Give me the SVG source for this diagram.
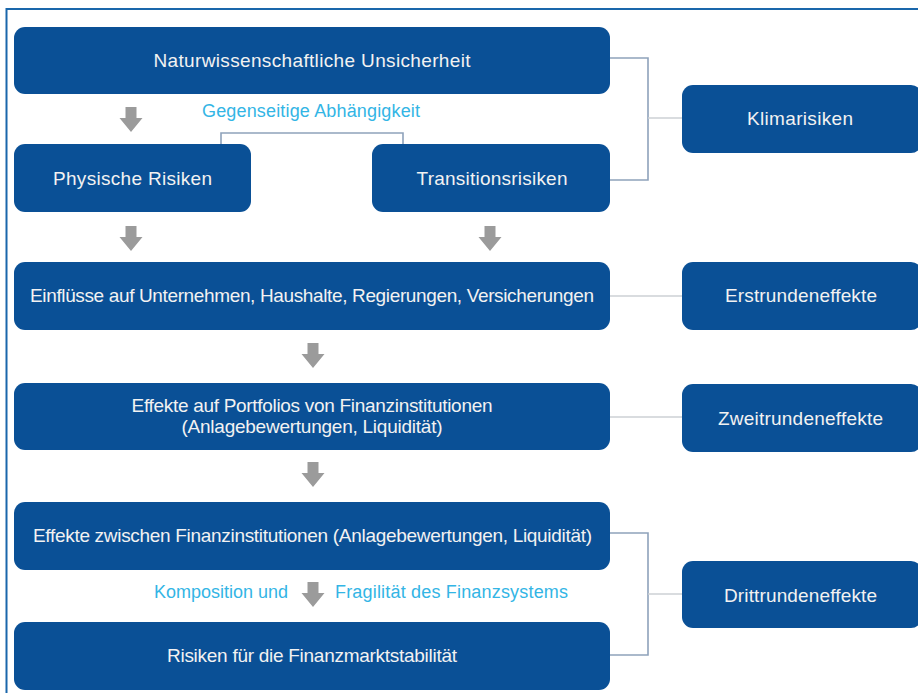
<svg xmlns="http://www.w3.org/2000/svg" width="918" height="693" viewBox="0 0 918 693">
<style>
.box{fill:#0a5096;}
.t{font-family:"Liberation Sans",Arial,sans-serif;font-size:19px;fill:#f2f2f2;text-anchor:middle;}
.c{font-family:"Liberation Sans",Arial,sans-serif;font-size:18px;fill:#33b5e5;text-anchor:middle;}
.br{fill:none;stroke:#8ea2bb;stroke-width:1.6;}
.ln{fill:none;stroke:#ccd0d5;stroke-width:1.6;}
.ar{fill:#9b9b9b;}
</style>
<defs>
<path id="arr" d="M-5.5,0 H5.5 V11 H11.5 L0,25 L-11.5,11 H-5.5 Z"/>
</defs>
<rect x="0" y="0" width="918" height="693" fill="#ffffff"/>
<path d="M6.5,693 V9 H918" fill="none" stroke="#1a67ab" stroke-width="2"/>

<g id="connectors">
<path class="br" d="M610,58 H648 V180 H610"/>
<path class="ln" d="M648,118 H682"/>
<path class="br" d="M221,144 V133 H403 V144"/>
<path class="ln" d="M610,296 H682"/>
<path class="ln" d="M610,417 H682"/>
<path class="br" d="M610,533 H648 V655 H610"/>
<path class="ln" d="M648,594 H682"/>
<use href="#arr" class="ar" x="131" y="107"/>
<use href="#arr" class="ar" x="131" y="226"/>
<use href="#arr" class="ar" x="490" y="226"/>
<use href="#arr" class="ar" x="313" y="343"/>
<use href="#arr" class="ar" x="313" y="462"/>
<use href="#arr" class="ar" x="313" y="582"/>
</g>

<g id="n-unsicherheit">
<rect class="box" x="14" y="27" width="596" height="67" rx="11"/>
<text class="t" x="312" y="67" textLength="317" lengthAdjust="spacing">Naturwissenschaftliche Unsicherheit</text>
</g>
<g id="lbl-abhaengigkeit">
<text class="c" x="311" y="117" textLength="218" lengthAdjust="spacing">Gegenseitige Abhängigkeit</text>
</g>
<g id="n-physisch">
<rect class="box" x="14" y="144" width="237" height="68" rx="11"/>
<text class="t" x="132.5" y="185" textLength="159" lengthAdjust="spacing">Physische Risiken</text>
</g>
<g id="n-transition">
<rect class="box" x="372" y="144" width="238" height="68" rx="11"/>
<text class="t" x="492" y="185" textLength="151" lengthAdjust="spacing">Transitionsrisiken</text>
</g>
<g id="n-klima">
<rect class="box" x="682" y="85" width="240" height="68" rx="11"/>
<text class="t" x="800" y="125" textLength="106" lengthAdjust="spacing">Klimarisiken</text>
</g>
<g id="n-einfluesse">
<rect class="box" x="14" y="262" width="596" height="68" rx="11"/>
<text class="t" x="312" y="302" textLength="564" lengthAdjust="spacing">Einflüsse auf Unternehmen, Haushalte, Regierungen, Versicherungen</text>
</g>
<g id="n-erst">
<rect class="box" x="682" y="262" width="240" height="68" rx="11"/>
<text class="t" x="801" y="302" textLength="152" lengthAdjust="spacing">Erstrundeneffekte</text>
</g>
<g id="n-portfolios">
<rect class="box" x="14" y="383" width="596" height="67" rx="11"/>
<text class="t" x="312" y="412" textLength="361" lengthAdjust="spacing">Effekte auf Portfolios von Finanzinstitutionen</text>
<text class="t" x="312" y="433" textLength="261" lengthAdjust="spacing">(Anlagebewertungen, Liquidität)</text>
</g>
<g id="n-zweit">
<rect class="box" x="682" y="384" width="240" height="68" rx="11"/>
<text class="t" x="800.5" y="425" textLength="165" lengthAdjust="spacing">Zweitrundeneffekte</text>
</g>
<g id="n-zwischen">
<rect class="box" x="14" y="502" width="596" height="68" rx="11"/>
<text class="t" x="312.5" y="542" textLength="559" lengthAdjust="spacing">Effekte zwischen Finanzinstitutionen (Anlagebewertungen, Liquidität)</text>
</g>
<g id="lbl-komposition">
<text class="c" x="221" y="598" textLength="134" lengthAdjust="spacing">Komposition und</text>
<text class="c" x="451.5" y="598" textLength="233" lengthAdjust="spacing">Fragilität des Finanzsystems</text>
</g>
<g id="n-risiken">
<rect class="box" x="14" y="622" width="596" height="68" rx="11"/>
<text class="t" x="312" y="662" textLength="290" lengthAdjust="spacing">Risiken für die Finanzmarktstabilität</text>
</g>
<g id="n-dritt">
<rect class="box" x="682" y="561" width="240" height="67" rx="11"/>
<text class="t" x="800.5" y="602" textLength="153" lengthAdjust="spacing">Drittrundeneffekte</text>
</g>
</svg>
